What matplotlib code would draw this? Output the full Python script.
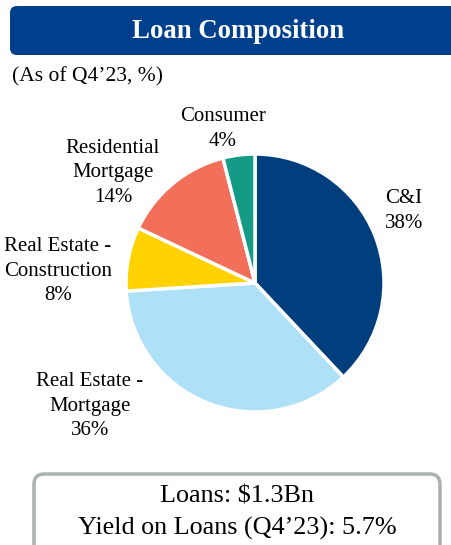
import matplotlib.pyplot as plt
from matplotlib.patches import FancyBboxPatch

categories = ["C&I", "Real Estate -\nMortgage", "Real Estate -\nConstruction",
              "Residential\nMortgage", "Consumer"]
shares = [38, 36, 8, 14, 4]
colors = ["#003E7E", "#AEE0F8", "#FFD200", "#F2705A", "#149B86"]
# label block centres in pixels
label_pos = [(404, 211), (90, 406), (58, 271), (113, 173), (223, 129)]

W, H = 451, 545
plt.rcParams['font.family'] = ['Liberation Serif', 'DejaVu Serif']
fig = plt.figure(figsize=(W / 100, H / 100), dpi=100)


def fx(x):
    return x / W


def fy(y):
    return 1 - y / H


# header bar
bg = fig.add_axes([0, 0, 1, 1])
bg.set_xlim(0, W)
bg.set_ylim(H, 0)
bg.axis("off")
bg.add_patch(FancyBboxPatch((10, 6), 460, 49, boxstyle="round,pad=0,rounding_size=7",
                            facecolor="#003F8C", edgecolor="none"))
bg.text(238, 31, "Loan Composition", color="white", fontsize=19.3, fontweight="bold",
        ha="center", va="center")
bg.text(12, 77, "(As of Q4\u201923, %)", fontsize=15.5, ha="left", va="center")

# bottom box
bg.add_patch(FancyBboxPatch((34, 474), 406, 90, boxstyle="round,pad=0,rounding_size=10",
                            facecolor="white", edgecolor="#A9B1B1", linewidth=2.5))
bg.text(237, 497, "Loans: $1.3Bn", fontsize=18.8, ha="center", va="center")
bg.text(237, 528, "Yield on Loans (Q4\u201923): 5.7%", fontsize=18.8, ha="center", va="center")

# pie
cx, cy, r = 255, 283, 129
ax = fig.add_axes([fx(cx - r), fy(cy + r), 2 * r / W, 2 * r / H])
ax.pie(shares, colors=colors, startangle=90, counterclock=False,
       wedgeprops=dict(edgecolor="white", linewidth=2.5))
ax.set_xlim(-1, 1)
ax.set_ylim(-1, 1)
ax.set_aspect("equal")

for name, val, (px, py) in zip(categories, shares, label_pos):
    bg.text(px, py, f"{name}\n{val}%", fontsize=15, ha="center", va="center",
            linespacing=1.38)

fig.savefig("out.png", dpi=100)
